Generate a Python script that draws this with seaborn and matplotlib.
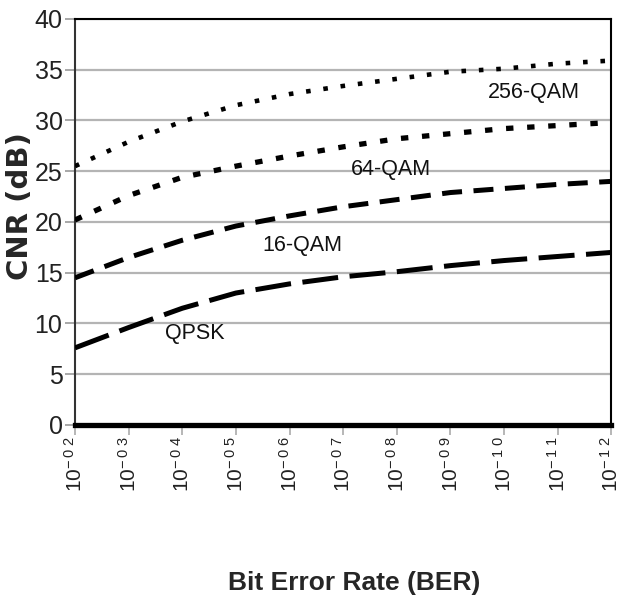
import matplotlib
matplotlib.use("Agg")
import matplotlib.pyplot as plt
import numpy as np
import pandas as pd
import seaborn as sns

# BER decades on the x axis (10^-2 ... 10^-12)
ber_exponents = [2, 3, 4, 5, 6, 7, 8, 9, 10, 11, 12]
ber_labels = [r"$\mathregular{10^{-\,%s\;%s}}$" % tuple("%02d" % e) for e in ber_exponents]

# Required CNR (dB) for each modulation
cnr_qpsk = [7.6, 9.6, 11.5, 13.0, 13.9, 14.6, 15.1, 15.7, 16.2, 16.6, 17.0]
cnr_16qam = [14.5, 16.5, 18.2, 19.6, 20.6, 21.5, 22.2, 22.9, 23.3, 23.7, 24.0]
cnr_64qam = [20.2, 22.6, 24.4, 25.5, 26.5, 27.4, 28.2, 28.7, 29.2, 29.5, 29.8]
cnr_256qam = [25.5, 27.9, 29.9, 31.5, 32.6, 33.4, 34.1, 34.8, 35.1, 35.6, 35.9]

modulations = ["QPSK", "16-QAM", "64-QAM", "256-QAM"]
series = [cnr_qpsk, cnr_16qam, cnr_64qam, cnr_256qam]

df = pd.DataFrame({
    "pos": np.tile(np.arange(len(ber_exponents)), len(modulations)),
    "cnr": np.concatenate(series),
    "mod": np.repeat(modulations, len(ber_exponents)),
})

sns.set_style("white")
sans = ["Liberation Sans", "DejaVu Sans"]
plt.rcParams["font.family"] = sans

fig = plt.figure(figsize=(6.25, 6.06), dpi=100)
ax = fig.add_axes([0.12, 0.2987, 0.858, 0.67])

# line style per modulation: (linewidth, dash pattern in linewidth units)
styles = {
    "QPSK": (3.6, (7.2, 2.3)),
    "16-QAM": (3.6, (4.0, 2.3)),
    "64-QAM": (3.8, (1.4, 2.6)),
    "256-QAM": (3.3, (1.0, 2.8)),
}

for mod in modulations:
    lw, dash = styles[mod]
    sub = df[df["mod"] == mod]
    sns.lineplot(data=sub, x="pos", y="cnr", color="black", linewidth=lw,
                 linestyle=(0, dash), ax=ax, legend=False, zorder=3)

# curve annotations
label_pos = {
    "256-QAM": (8.56, 32.8),
    "64-QAM": (5.89, 25.2),
    "16-QAM": (4.24, 17.7),
    "QPSK": (2.23, 9.0),
}
for mod, (x, y) in label_pos.items():
    ax.text(x, y, mod, ha="center", va="center", fontsize=15.5,
            color="#111111", zorder=4)

ax.set_xlim(0, len(ber_exponents) - 1)
ax.set_ylim(0, 40)
ax.set_yticks(np.arange(0, 41, 5))
ax.set_xticks(np.arange(len(ber_exponents)))
ax.set_xticklabels(ber_labels, rotation=90, fontsize=15, ha="center", va="top")

ax.grid(axis="y", color="#b4b4b4", linewidth=1.6)
ax.grid(axis="x", visible=False)
ax.set_axisbelow(True)

ax.tick_params(axis="y", which="major", length=7, width=1.2, color="#999999",
               labelsize=18, pad=2, left=True, labelcolor="#222222")
ax.tick_params(axis="x", which="major", length=7, width=1.2, color="#aaaaaa",
               pad=1, bottom=True, labelcolor="#222222")

for side in ["top", "right", "left"]:
    ax.spines[side].set_color("black")
    ax.spines[side].set_linewidth(1.5)
ax.spines["left"].set_color("#333333")
ax.spines["bottom"].set_color("black")
ax.spines["bottom"].set_linewidth(3.8)

ax.set_xlabel("Bit Error Rate (BER)", fontsize=19, fontweight="bold")
ax.xaxis.set_label_coords(0.52, -0.36)
ax.xaxis.label.set_va("top")

ax.set_ylabel("CNR (dB)", fontsize=21, fontweight="bold",
              family=["DejaVu Sans"])
ax.yaxis.set_label_coords(-0.103, 0.539)
ax.yaxis.label.set_va("center")

fig.savefig("out.png", dpi=100, facecolor="white")
